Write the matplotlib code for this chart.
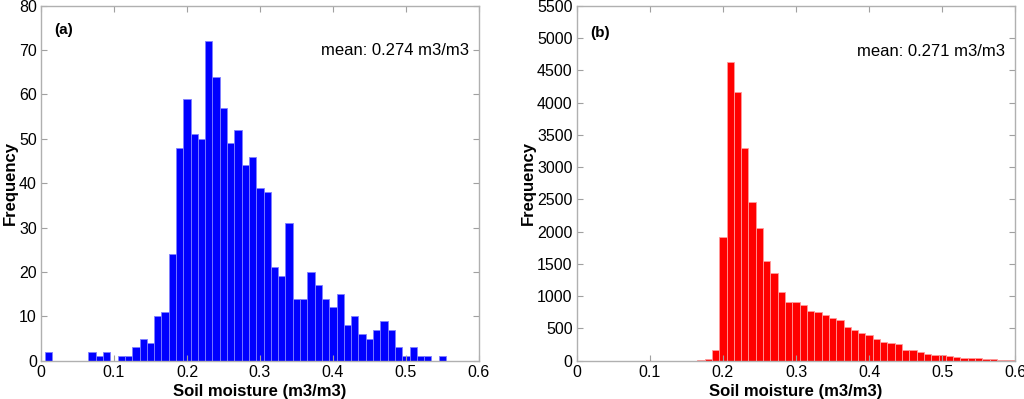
import numpy as np
import matplotlib.pyplot as plt

plt.rcParams['font.family'] = ['Liberation Sans', 'DejaVu Sans']

# histogram (a): bin centres 0.00 .. 0.55, step 0.01
bins_a = np.round(np.arange(0.0, 0.555, 0.01), 2)
counts_a = [0, 2, 0, 0, 0, 0, 0, 2, 1, 2,
            0, 1, 1, 3, 5, 4, 10, 11, 24, 48,
            59, 51, 50, 72, 64, 57, 49, 52, 44, 46,
            39, 38, 21, 19, 31, 14, 14, 20, 17, 14,
            12, 15, 8, 10, 6, 5, 7, 9, 7, 3,
            1, 3, 1, 1, 0, 1]
mean_a = "mean: 0.274 m3/m3"

# histogram (b): bin centres 0.17 .. 0.60, step 0.01
bins_b = np.round(np.arange(0.17, 0.605, 0.01), 2)
counts_b = [15, 30, 165, 1925, 4635, 4165, 3304, 2453, 2050, 1553,
            1357, 1067, 905, 915, 860, 771, 750, 708, 656, 625,
            521, 474, 427, 401, 333, 297, 281, 255, 167, 167,
            135, 109, 89, 89, 73, 57, 42, 42, 36, 21,
            21, 10, 10, 5]
mean_b = "mean: 0.271 m3/m3"

fig = plt.figure(figsize=(10.24, 3.99), dpi=100)
ax1 = fig.add_axes([0.040, 0.096, 0.4277, 0.890])
ax2 = fig.add_axes([0.5632, 0.096, 0.4283, 0.889])

panels = [
    (ax1, bins_a, counts_a, "#0000ff", "#7f7fff", 80, 10, "(a)", 0.932, mean_a),
    (ax2, bins_b, counts_b, "#ff0000", "#ff9a9a", 5500, 500, "(b)", 0.923, mean_b),
]

for ax, bins, counts, fc, ec, ymax, ystep, tag, tag_y, mean_txt in panels:
    ax.bar(bins, counts, width=0.01, color=fc, edgecolor=ec, linewidth=0.6)
    ax.set_xlim(0, 0.6)
    ax.set_ylim(0, ymax)
    ax.set_xticks(np.round(np.arange(0, 0.61, 0.1), 1))
    ax.set_xticklabels(["0", "0.1", "0.2", "0.3", "0.4", "0.5", "0.6"])
    ax.set_yticks(np.arange(0, ymax + 1, ystep))
    ax.tick_params(direction="in", top=True, right=True, length=4,
                   color="#a0a0a0", labelsize=11.5, pad=3)
    for s in ax.spines.values():
        s.set_color("#b0b0b0")
        s.set_linewidth(1.0)
    ax.set_xlabel("Soil moisture (m3/m3)", fontsize=12, fontweight="bold", labelpad=3)
    ax.set_ylabel("Frequency", fontsize=12, fontweight="bold", labelpad=1)
    ax.text(0.03, tag_y, tag, transform=ax.transAxes, fontsize=11,
            fontweight="bold", va="center", ha="left")
    ax.text(0.977, 0.873, mean_txt, transform=ax.transAxes, fontsize=12,
            va="center", ha="right")

fig.savefig("out.png", dpi=100)
